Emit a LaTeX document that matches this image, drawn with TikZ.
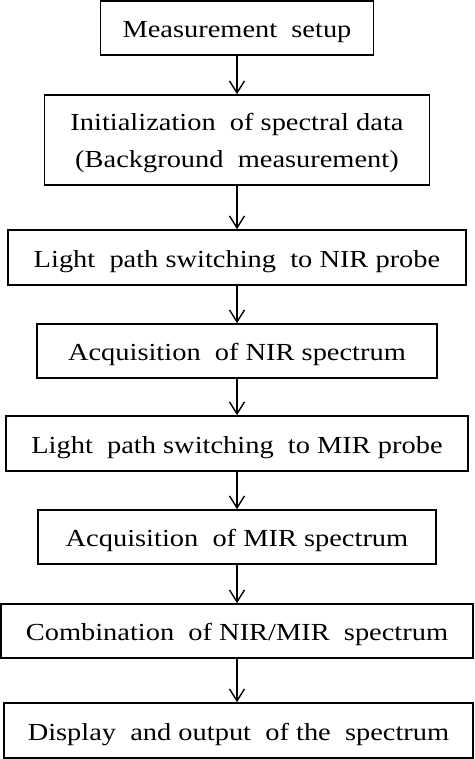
\documentclass[tikz,border=0pt]{standalone}
\usepackage{fontspec}
\setmainfont{Liberation Serif}
\newfontfamily\wideserif[FakeStretch=1.16]{Liberation Serif}
\usetikzlibrary{arrows.meta}
\begin{document}
\begin{tikzpicture}[x=1pt,y=-1pt,
  box/.style={draw=black,line width=1.6pt,rectangle,inner sep=0pt,align=center,
    text height=22pt,text depth=3pt,
    font=\wideserif\fontsize{24.5}{37}\selectfont},
  conn/.style={line width=1.4pt,-{Straight Barb[length=12pt,width=15pt,line width=1.4pt]}}]
\fill[white] (0,0) rectangle (474,759);
\useasboundingbox (0,0) rectangle (474,759);
\node[box,minimum width=273pt,minimum height=54pt] (b1) at (237,28) {Measurement\ \ setup};
\node[box,minimum width=385pt,minimum height=90pt,text height=59pt] (b2) at (237,140) {Initialization\ \ of spectral data\\(Background\ \ measurement)};
\node[box,minimum width=458pt,minimum height=55pt] (b3) at (237,257.5) {Light\ \ path switching\ \ to NIR probe};
\node[box,minimum width=400pt,minimum height=54pt] (b4) at (237,351) {Acquisition\ \ of NIR spectrum};
\node[box,minimum width=462pt,minimum height=55pt] (b5) at (237,443.5) {Light\ \ path switching\ \ to MIR probe};
\node[box,minimum width=398pt,minimum height=54pt] (b6) at (237,537) {Acquisition\ \ of MIR spectrum};
\node[box,minimum width=472pt,minimum height=54pt] (b7) at (237,631) {Combination\ \ of NIR/MIR\ \ spectrum};
\node[box,minimum width=469pt,minimum height=55pt] (b8) at (238.5,730.5) {Display\ \ and output\ \ of the\ \ spectrum};
\foreach \a/\b in {b1/b2,b2/b3,b3/b4,b4/b5,b5/b6,b6/b7,b7/b8}
  \draw[conn] (\a.south) -- (\a.south |- \b.north);
\end{tikzpicture}
\end{document}
